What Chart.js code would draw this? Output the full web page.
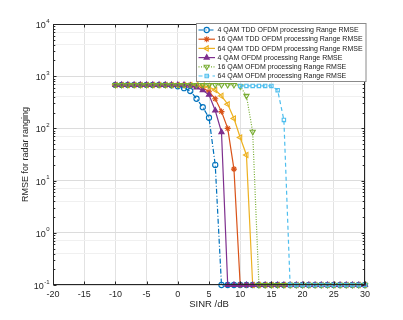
<!DOCTYPE html>
<html>
<head>
<meta charset="utf-8">
<script src="https://cdn.jsdelivr.net/npm/chart.js@4.4.1/dist/chart.umd.min.js"></script>
<style>
  html, body { margin: 0; padding: 0; background: #fff; }
  #wrap { width: 403px; height: 320px; }
</style>
</head>
<body>
<div id="wrap"><canvas id="c" width="403" height="320"></canvas></div>
<script>
// SINR axis (dB), one point per dB
const sinr = [-10, -9, -8, -7, -6, -5, -4, -3, -2, -1, 0, 1, 2, 3, 4, 5, 6, 7, 8, 9, 10,
  11, 12, 13, 14, 15, 16, 17, 18, 19, 20, 21, 22, 23, 24, 25, 26, 27, 28, 29, 30];

// RMSE values (0.1 = sits on the bottom of the axis)
const qam4Tdd = [680, 680, 680, 680, 680, 680, 680, 680, 680, 670, 640, 590, 520, 370, 255, 160, 20, 0.1, 0.1, 0.1, 0.1,
  0.1, 0.1, 0.1, 0.1, 0.1, 0.1, 0.1, 0.1, 0.1, 0.1, 0.1, 0.1, 0.1, 0.1, 0.1, 0.1, 0.1, 0.1, 0.1, 0.1];
const qam16Tdd = [680, 680, 680, 680, 680, 680, 680, 680, 680, 680, 680, 680, 680, 650, 600, 505, 370, 210, 100, 16.6, 0.1,
  0.1, 0.1, 0.1, 0.1, 0.1, 0.1, 0.1, 0.1, 0.1, 0.1, 0.1, 0.1, 0.1, 0.1, 0.1, 0.1, 0.1, 0.1, 0.1, 0.1];
const qam64Tdd = [680, 680, 680, 680, 680, 680, 680, 680, 680, 680, 680, 680, 680, 680, 660, 620, 545, 420, 290, 155, 67,
  31, 0.1, 0.1, 0.1, 0.1, 0.1, 0.1, 0.1, 0.1, 0.1, 0.1, 0.1, 0.1, 0.1, 0.1, 0.1, 0.1, 0.1, 0.1, 0.1];
const qam4Ofdm = [680, 680, 680, 680, 680, 680, 680, 680, 680, 680, 680, 680, 660, 610, 540, 440, 220, 85, 0.1, 0.1, 0.1,
  0.1, 0.1, 0.1, 0.1, 0.1, 0.1, 0.1, 0.1, 0.1, 0.1, 0.1, 0.1, 0.1, 0.1, 0.1, 0.1, 0.1, 0.1, 0.1, 0.1];
const qam16Ofdm = [680, 680, 680, 680, 680, 680, 680, 680, 680, 680, 680, 680, 680, 680, 680, 680, 680, 680, 680, 680, 640,
  420, 86, 0.1, 0.1, 0.1, 0.1, 0.1, 0.1, 0.1, 0.1, 0.1, 0.1, 0.1, 0.1, 0.1, 0.1, 0.1, 0.1, 0.1, 0.1];
const qam64Ofdm = [null, null, null, null, null, null, null, null, null, null, null, null, null, null, null, null, null, null, null, null, 650,
  650, 650, 650, 650, 650, 540, 145, 0.1, 0.1, 0.1, 0.1, 0.1, 0.1, 0.1, 0.1, 0.1, 0.1, 0.1, 0.1, 0.1];

const xTicks = [-20, -15, -10, -5, 0, 5, 10, 15, 20, 25, 30];
const yDecades = [0.1, 1, 10, 100, 1000, 10000];
const yExponents = ['-1', '0', '1', '2', '3', '4'];

const AXIS = '#262626';
const FONT = "'Liberation Sans', Arial, sans-serif";

Chart.defaults.font.family = FONT;
Chart.defaults.color = AXIS;

function isDecade(v) {
  const l = Math.log10(v);
  return Math.abs(l - Math.round(l)) < 1e-9;
}

// all 1..9 x 10^n grid positions between the decades
const yGridValues = [];
yDecades.forEach((d, i) => {
  if (i === yDecades.length - 1) { yGridValues.push(d); return; }
  for (let k = 1; k <= 9; k++) yGridValues.push(+(k * d).toPrecision(3));
});

function series(label, data, color, style) {
  return Object.assign({
    label, data,
    borderColor: color,
    pointBorderColor: color,
    pointBackgroundColor: 'rgba(0,0,0,0)',
    borderWidth: 1.2,
    pointRadius: 2.6,
    pointBorderWidth: 1.1,
    pointStyle: 'circle',
    pointRotation: 0,
    tension: 0,
    fill: false,
    clip: false,
  }, style);
}

const datasets = [
  series('4 QAM TDD OFDM processing Range RMSE', qam4Tdd, '#0072BD', { borderDash: [5, 2, 1, 2], order: 5 }),
  series('16 QAM TDD OFDM processing Range RMSE', qam16Tdd, '#D95319', { pointStyle: 'star', pointRadius: 3, order: 4 }),
  series('64 QAM TDD OFDM processing Range RMSE', qam64Tdd, '#EDB120', { pointStyle: 'triangle', pointRotation: -90, pointRadius: 3, order: 3 }),
  series('4 QAM OFDM processing Range RMSE', qam4Ofdm, '#7E2F8E', { pointStyle: 'triangle', pointRadius: 3, pointBackgroundColor: '#7E2F8E', order: 2 }),
  series('16 QAM OFDM processing Range RMSE', qam16Ofdm, '#77AC30', { pointStyle: 'triangle', pointRotation: 180, pointRadius: 3, borderDash: [1, 1.5], order: 1 }),
  series('64 QAM OFDM processing Range RMSE', qam64Ofdm, '#4DBEEE', { pointStyle: 'rect', pointRadius: 2.4, borderDash: [4, 3], order: 0 }),
];

function drawMarker(ctx, ds, x, y) {
  ctx.fillStyle = ds.pointBackgroundColor;
  ctx.strokeStyle = ds.pointBorderColor;
  ctx.lineWidth = ds.pointBorderWidth;
  ctx.setLineDash([]);
  Chart.helpers.drawPoint(ctx, {
    pointStyle: ds.pointStyle, rotation: ds.pointRotation,
    radius: ds.pointRadius, borderWidth: ds.pointBorderWidth,
  }, x, y);
}

// MATLAB-like box, inward ticks, 10^n labels and inset legend
const matlabAxes = {
  id: 'matlabAxes',
  afterDraw(chart) {
    const { ctx, chartArea: a, scales: { x, y } } = chart;
    const L = Math.round(a.left) + 0.5, R = Math.round(a.right) - 0.5;
    const T = Math.round(a.top) + 0.5, B = Math.round(a.bottom) - 0.5;
    ctx.save();
    ctx.strokeStyle = AXIS;
    ctx.lineWidth = 1;
    ctx.setLineDash([]);
    ctx.strokeRect(L, T, R - L, B - T);

    ctx.beginPath();
    xTicks.forEach(v => {
      const px = Math.round(x.getPixelForValue(v)) + 0.5;
      ctx.moveTo(px, B); ctx.lineTo(px, B - 3);
      ctx.moveTo(px, T); ctx.lineTo(px, T + 3);
    });
    yGridValues.forEach(v => {
      const py = Math.round(y.getPixelForValue(v)) + 0.5;
      const len = isDecade(v) ? 3 : 1.8;
      ctx.moveTo(L, py); ctx.lineTo(L + len, py);
      ctx.moveTo(R, py); ctx.lineTo(R - len, py);
    });
    ctx.stroke();

    // y tick labels: 10 with superscript exponent
    ctx.fillStyle = AXIS;
    ctx.textBaseline = 'middle';
    yDecades.forEach((v, i) => {
      const py = y.getPixelForValue(v);
      ctx.font = '6px ' + FONT;
      ctx.textAlign = 'right';
      const ex = yExponents[i];
      const exW = ctx.measureText(ex).width;
      ctx.fillText(ex, 49.5, py - 3);
      ctx.font = '9px ' + FONT;
      ctx.fillText('10', 49.5 - exW - 0.3, py + 1.5);
    });

    // legend
    const lx = 196.5, ly = 23.5, lw = a.right + 1 - lx, lh = 58;
    ctx.fillStyle = '#fff';
    ctx.fillRect(lx, ly, lw, lh);
    ctx.strokeStyle = '#8a8a8a';
    ctx.strokeRect(lx, ly, lw, lh);
    ctx.font = '7px ' + FONT;
    ctx.textAlign = 'left';
    chart.data.datasets.forEach((ds, i) => {
      const ry = 30 + i * 9.2;
      ctx.strokeStyle = ds.borderColor;
      ctx.lineWidth = ds.borderWidth;
      ctx.setLineDash(ds.borderDash || []);
      ctx.beginPath();
      ctx.moveTo(198.5, ry); ctx.lineTo(215, ry);
      ctx.stroke();
      drawMarker(ctx, ds, 206.7, ry);
      ctx.fillStyle = '#1a1a1a';
      ctx.fillText(ds.label, 217.5, ry + 0.3);
    });
    ctx.restore();
  },
};

new Chart(document.getElementById('c'), {
  type: 'line',
  data: { labels: sinr, datasets },
  options: {
    responsive: false,
    animation: false,
    layout: { padding: { top: 24, right: 38, left: 0, bottom: 0 } },
    plugins: { legend: { display: false }, tooltip: { enabled: false } },
    scales: {
      x: {
        type: 'linear', min: -20, max: 30,
        afterBuildTicks(scale) { scale.ticks = xTicks.map(v => ({ value: v })); },
        afterFit(scale) { scale.height = 35; },
        ticks: { color: AXIS, font: { size: 9 }, padding: 4, maxRotation: 0 },
        grid: { color: '#e2e2e2', drawTicks: false },
        border: { display: false },
        title: { display: true, text: 'SINR /dB', color: AXIS, font: { size: 9.5 }, padding: { top: 0, bottom: 10 } },
      },
      y: {
        type: 'logarithmic', min: 0.1, max: 10000,
        afterBuildTicks(scale) { scale.ticks = yGridValues.map(v => ({ value: v })); },
        afterFit(scale) { scale.width = 53; },
        ticks: { callback: () => '' },
        grid: {
          drawTicks: false,
          color: c => (c.tick && isDecade(c.tick.value)) ? '#dcdcdc' : '#f0f0f0',
        },
        border: { display: false },
        title: { display: true, text: 'RMSE for radar ranging', color: AXIS, font: { size: 9 }, padding: { top: 20, bottom: 0 } },
      },
    },
  },
  plugins: [matlabAxes],
});
</script>
</body>
</html>
